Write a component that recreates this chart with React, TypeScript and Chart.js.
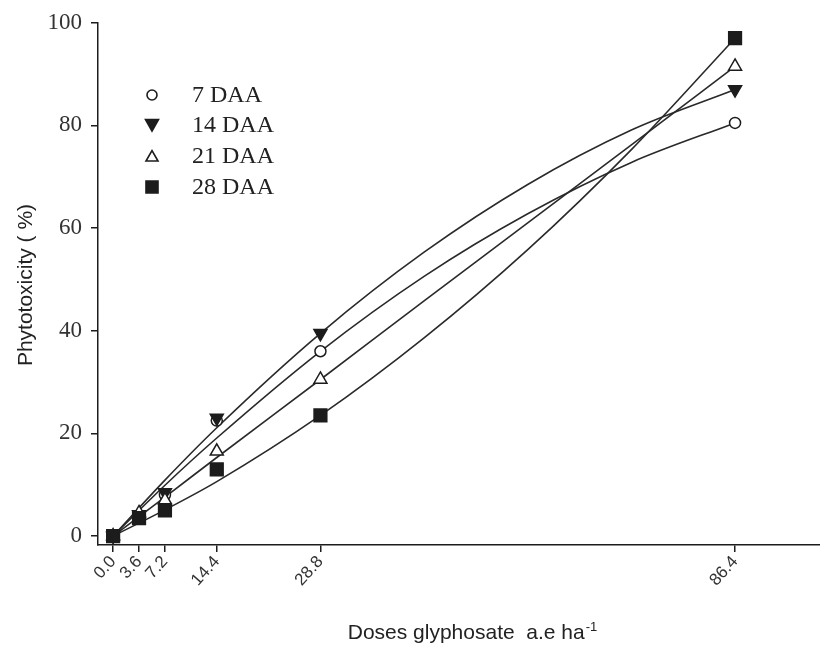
import React, { useEffect, useRef } from 'react';
import { Chart, registerables } from 'chart.js';

Chart.register(...registerables);

// ---- data ----
const doses = [0, 3.6, 7.2, 14.4, 28.8, 86.4];
const xTickLabels = ['0.0', '3.6', '7.2', '14.4', '28.8', '86.4'];
const yTicks = [0, 20, 40, 60, 80, 100];
const seriesNames = ['7 DAA', '14 DAA', '21 DAA', '28 DAA'];

const daa7 = [0, 4, 8, 22.5, 36, 80.5];
const daa14 = [0, 4.2, 8.5, 23, 39.5, 87];
const daa21 = [0, 4.5, 7, 16.5, 30.5, 91.5];
const daa28 = [0, 3.5, 5, 13, 23.5, 97];

// fitted curves
const curveDoses = [0, 7.2, 14.4, 28.8, 43.2, 57.6, 72, 86.4];
const curve7 = [0, 9.9, 19.1, 36, 50.6, 62.8, 72.8, 80.5];
const curve14 = [0, 10.9, 21.1, 39.5, 55.3, 68.5, 79.1, 87];
const curve21 = [0, 7.6, 15.3, 30.5, 45.8, 61, 76.2, 91.5];
const curve28 = [0, 5.1, 10.6, 23.5, 38.6, 55.8, 75.3, 97];

const INK = '#1c1c1c';
const LINE = '#2a2a2a';

const toXY = (xs: number[], ys: number[]) => xs.map((x, i) => ({ x, y: ys[i] }));

const markerStyles = [
  { pointStyle: 'circle', rotation: 0, fill: '#ffffff', radius: 5.5 },
  { pointStyle: 'triangle', rotation: 180, fill: INK, radius: 7.5 },
  { pointStyle: 'triangle', rotation: 0, fill: '#ffffff', radius: 7.5 },
  { pointStyle: 'rect', rotation: 0, fill: INK, radius: 9 },
];

const pointSets = [daa7, daa14, daa21, daa28];
const curveSets = [curve7, curve14, curve21, curve28];

const decorPlugin = {
  id: 'decor',
  afterDraw(chart: any) {
    const ctx = chart.ctx as CanvasRenderingContext2D;
    ctx.save();
    ctx.fillStyle = '#222';
    // y title
    ctx.save();
    ctx.translate(26, 285);
    ctx.rotate(-Math.PI / 2);
    ctx.font = '21px "Liberation Sans", Arial, sans-serif';
    ctx.textAlign = 'center';
    ctx.textBaseline = 'middle';
    ctx.fillText('Phytotoxicity ( %)', 0, 0);
    ctx.restore();

    // x title with superscript
    const main = 'Doses glyphosate  a.e ha';
    const sup = '-1';
    ctx.font = '21px "Liberation Sans", Arial, sans-serif';
    const wMain = ctx.measureText(main).width;
    ctx.font = '13px "Liberation Sans", Arial, sans-serif';
    const wSup = ctx.measureText(sup).width;
    const cx = 472;
    const startX = cx - (wMain + wSup) / 2;
    const baseY = 639;
    ctx.textAlign = 'left';
    ctx.textBaseline = 'alphabetic';
    ctx.font = '21px "Liberation Sans", Arial, sans-serif';
    ctx.fillText(main, startX, baseY);
    ctx.font = '13px "Liberation Sans", Arial, sans-serif';
    ctx.fillText(sup, startX + wMain + 1, baseY - 8);

    // legend
    const rowsY = [95, 125, 156, 187];
    const mx = 152;
    ctx.font = '24px "Liberation Serif", "Times New Roman", serif';
    ctx.textBaseline = 'middle';
    ctx.lineWidth = 1.6;
    ctx.strokeStyle = INK;
    seriesNames.forEach((name, i) => {
      const y = rowsY[i];
      const m = markerStyles[i];
      ctx.beginPath();
      if (m.pointStyle === 'circle') {
        ctx.arc(mx, y, 5, 0, Math.PI * 2);
      } else if (m.pointStyle === 'rect') {
        ctx.rect(mx - 6, y - 6, 12, 12);
      } else if (m.rotation === 180) {
        ctx.moveTo(mx - 6.5, y - 5.5);
        ctx.lineTo(mx + 6.5, y - 5.5);
        ctx.lineTo(mx, y + 6);
        ctx.closePath();
      } else {
        ctx.moveTo(mx - 6, y + 5);
        ctx.lineTo(mx + 6, y + 5);
        ctx.lineTo(mx, y - 5.5);
        ctx.closePath();
      }
      ctx.fillStyle = m.fill;
      ctx.fill();
      ctx.stroke();
      ctx.fillStyle = '#222';
      ctx.fillText(name, 192, y + 1);
    });
    ctx.restore();
  },
};

export default function App() {
  const ref = useRef<HTMLCanvasElement | null>(null);

  useEffect(() => {
    document.body.style.margin = '0';
    if (!ref.current) return;

    const pointDatasets = pointSets
      .map((vals, i) => ({
        type: 'scatter' as const,
        label: seriesNames[i],
        data: toXY(doses, vals),
        showLine: false,
        pointStyle: markerStyles[i].pointStyle,
        rotation: markerStyles[i].rotation,
        pointRadius: markerStyles[i].radius,
        pointBackgroundColor: markerStyles[i].fill,
        pointBorderColor: INK,
        pointBorderWidth: 1.5,
      }))
      .reverse();

    const curveDatasets = curveSets.map((vals, i) => ({
      type: 'line' as const,
      label: seriesNames[i] + ' fit',
      data: toXY(curveDoses, vals),
      borderColor: LINE,
      borderWidth: 1.6,
      pointRadius: 0,
      fill: false,
      cubicInterpolationMode: 'monotone' as const,
    }));

    const chart = new Chart(ref.current, {
      type: 'scatter',
      data: { datasets: [...pointDatasets, ...curveDatasets] as any },
      options: {
        animation: false,
        responsive: true,
        maintainAspectRatio: false,
        layout: { autoPadding: false, padding: { top: 21, right: 0, bottom: 0, left: 0 } },
        plugins: { legend: { display: false }, tooltip: { enabled: false } },
        scales: {
          x: {
            type: 'linear',
            min: -2.1,
            max: 98.2,
            afterBuildTicks: (s: any) => {
              s.ticks = doses.map((v) => ({ value: v }));
            },
            afterFit: (s: any) => {
              s.height = 100;
              s.paddingRight = 0;
              s.paddingLeft = 0;
            },
            ticks: {
              callback: (v: any) => xTickLabels[doses.indexOf(Number(v))] ?? '',
              minRotation: 48,
              maxRotation: 48,
              autoSkip: false,
              padding: 0,
              color: '#333',
              font: { family: '"Liberation Sans", Arial, sans-serif', size: 17 },
            },
            grid: { drawOnChartArea: false, drawTicks: true, tickLength: 7, color: INK, lineWidth: 1.5 },
            border: { color: INK, width: 1.5 },
          },
          y: {
            type: 'linear',
            min: -1.75,
            max: 100,
            afterBuildTicks: (s: any) => {
              s.ticks = yTicks.map((v) => ({ value: v }));
            },
            afterFit: (s: any) => {
              s.width = 98;
            },
            ticks: {
              padding: 9,
              color: '#333',
              font: { family: '"Liberation Serif", "Times New Roman", serif', size: 23 },
            },
            grid: { drawOnChartArea: false, drawTicks: true, tickLength: 7, color: INK, lineWidth: 1.5 },
            border: { color: INK, width: 1.5 },
          },
        },
      },
      plugins: [decorPlugin],
    });

    return () => chart.destroy();
  }, []);

  return (
    <div style={{ width: 820, height: 645, position: 'relative', background: '#fff' }}>
      <canvas ref={ref} />
    </div>
  );
}
